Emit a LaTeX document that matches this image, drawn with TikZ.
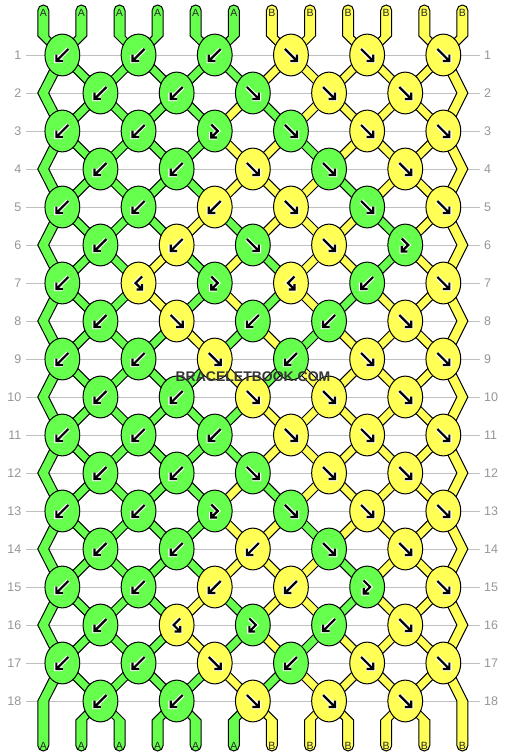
\documentclass[tikz,border=0pt]{standalone}
\usepackage{fontspec}
\setmainfont{Liberation Sans}
\definecolor{kg}{RGB}{102,255,77}
\definecolor{ky}{RGB}{255,255,85}
\definecolor{rowline}{RGB}{192,192,192}
\definecolor{numgray}{RGB}{150,150,150}
\definecolor{wmgray}{RGB}{55,55,55}
\definecolor{labdark}{RGB}{40,40,40}
\tikzset{
  seg/.style={draw=black, line width=1pt, line join=miter},
  knot/.style={draw=black, line width=1pt},
  gline/.style={draw=rowline, line width=1pt},
  rownum/.style={text=numgray, font=\fontsize{12.5}{14}\selectfont, inner sep=0pt},
  strlab/.style={text=labdark, font=\fontsize{10.5}{12}\selectfont, inner sep=0pt},
  wm/.style={font=\bfseries\fontsize{14}{16}\selectfont, inner sep=0pt},
  pics/arL/.style={code={
    \foreach \ww/\cc in {4.4/white,2.2/black}{
      \draw[line width=\ww pt, draw=\cc, line cap=butt, line join=miter]
        (6,-6) -- (-6,6) (-6,-0.5) -- (-6,6) -- (0.5,6);}}},
  pics/arR/.style={code={
    \foreach \ww/\cc in {4.4/white,2.2/black}{
      \draw[line width=\ww pt, draw=\cc, line cap=butt, line join=miter]
        (-6,-6) -- (6,6) (6,-0.5) -- (6,6) -- (-0.5,6);}}},
  pics/arF/.style={code={
    \foreach \ww/\cc in {4.4/white,2.2/black}{
      \draw[line width=\ww pt, draw=\cc, line cap=butt, line join=miter]
        (-3.5,-6.5) -- (3,0) -- (-3.5,6.5) (-3.5,1) -- (-3.5,6.5) -- (2,6.5);}}},
  pics/arB/.style={code={
    \foreach \ww/\cc in {4.4/white,2.2/black}{
      \draw[line width=\ww pt, draw=\cc, line cap=butt, line join=miter]
        (3.5,-6.5) -- (-3,0) -- (3.5,6.5) (3.5,1) -- (3.5,6.5) -- (-2,6.5);}}},
}
\begin{document}
\begin{tikzpicture}[x=1pt,y=-1pt]
\fill[white] (0,0) rectangle (506,756);
\useasboundingbox (0,0) rectangle (506,756);

% row lines and numbers
\foreach \rw in {1,...,18}{
  \pgfmathsetmacro\ly{55+38*(\rw-1)}
  \draw[gline] (26,\ly) -- (480,\ly);
  \node[rownum, anchor=east] (ln\rw) at (21.5,\ly) {\rw};
  \node[rownum, anchor=west] (rn\rw) at (484,\ly) {\rw};
}

% edge strings (position 1 green, position 12 yellow)
\filldraw[seg, fill=kg] (37.8,10.5) -- (37.8,36)
  \foreach \rr in {1,...,18}{ -- ({ifthenelse(mod(\rr,2)==1,62.35,43.3)-5.5},{55+38*(\rr-1)}) }
  -- (37.8,745.5) arc[start angle=180,end angle=0,radius=5.5]
  \foreach \rr in {18,...,1}{ -- ({ifthenelse(mod(\rr,2)==1,62.35,43.3)+5.5},{55+38*(\rr-1)}) }
  -- (48.8,36) -- (48.8,10.5) arc[start angle=0,end angle=-180,radius=5.5] -- cycle;
\filldraw[seg, fill=ky] (456.9,10.5) -- (456.9,36)
  \foreach \rr in {1,...,18}{ -- ({ifthenelse(mod(\rr,2)==1,443.35,462.4)-5.5},{55+38*(\rr-1)}) }
  -- (456.9,745.5) arc[start angle=180,end angle=0,radius=5.5]
  \foreach \rr in {18,...,1}{ -- ({ifthenelse(mod(\rr,2)==1,443.35,462.4)+5.5},{55+38*(\rr-1)}) }
  -- (467.9,36) -- (467.9,10.5) arc[start angle=0,end angle=-180,radius=5.5] -- cycle;

% inner string segments, coloured by state after each row
\foreach \rr/\st in {
 0/{g,g,g,g,g,g,y,y,y,y,y,y},
 1/{g,g,g,g,g,g,y,y,y,y,y,y},
 2/{g,g,g,g,g,y,g,y,y,y,y,y},
 3/{g,g,g,g,g,y,y,g,y,y,y,y},
 4/{g,g,g,g,g,y,y,y,g,y,y,y},
 5/{g,g,g,g,y,g,y,y,y,g,y,y},
 6/{g,g,g,y,g,y,g,y,y,g,y,y},
 7/{g,g,g,y,g,y,g,y,g,y,y,y},
 8/{g,g,g,g,y,g,y,g,y,y,y,y},
 9/{g,g,g,g,g,y,g,y,y,y,y,y},
 10/{g,g,g,g,g,g,y,y,y,y,y,y},
 11/{g,g,g,g,g,g,y,y,y,y,y,y},
 12/{g,g,g,g,g,y,g,y,y,y,y,y},
 13/{g,g,g,g,g,y,y,g,y,y,y,y},
 14/{g,g,g,g,g,y,y,y,g,y,y,y},
 15/{g,g,g,g,y,g,y,y,g,y,y,y},
 16/{g,g,g,g,y,g,y,g,y,y,y,y},
 17/{g,g,g,g,g,y,g,y,y,y,y,y},
 18/{g,g,g,g,g,g,y,y,y,y,y,y}}{
  \foreach \cl [count=\pp] in \st {
    \ifnum\pp>1 \ifnum\pp<12
      \pgfmathsetmacro\cx{43.3+38.1*(\pp-1)}
      \pgfmathsetmacro\xo{62.35+76.2*(ceil(\pp/2)-1)}
      \pgfmathsetmacro\xe{100.45+76.2*(floor(\pp/2)-1)}
      \pgfmathsetmacro\ya{55+38*(\rr-1)}
      \pgfmathsetmacro\yb{55+38*\rr}
      \ifnum\rr=0
        \filldraw[seg, fill=k\cl] (\cx-5.5,10.5) -- (\cx-5.5,36) -- (\xo-5.5,55) -- (\xo+5.5,55) -- (\cx+5.5,36) -- (\cx+5.5,10.5) arc[start angle=0,end angle=-180,radius=5.5] -- cycle;
      \else\ifnum\rr=18
        \filldraw[seg, fill=k\cl] (\xe-5.5,\ya) -- (\cx-5.5,720) -- (\cx-5.5,745.5) arc[start angle=180,end angle=0,radius=5.5] -- (\cx+5.5,720) -- (\xe+5.5,\ya) -- cycle;
      \else
        \ifodd\rr \let\xa\xo \let\xb\xe \else \let\xa\xe \let\xb\xo \fi
        \filldraw[seg, fill=k\cl] (\xa-6,\ya) -- (\xb-6,\yb) -- (\xb+6,\yb) -- (\xa+6,\ya) -- cycle;
      \fi\fi
    \fi\fi
  }
}

% string labels
\foreach \lb [count=\pp] in {A,A,A,A,A,A,B,B,B,B,B,B}{
  \pgfmathsetmacro\cx{43.3+38.1*(\pp-1)}
  \node[strlab] (top\pp) at (\cx,12.5) {\lb};
  \node[strlab] (bot\pp) at (\cx,745.5) {\lb};
}

% knots
\foreach \row/\lst in {
 1/{g/L,g/L,g/L,y/R,y/R,y/R},
 2/{g/L,g/L,g/R,y/R,y/R},
 3/{g/L,g/L,g/F,g/R,y/R,y/R},
 4/{g/L,g/L,y/R,g/R,y/R},
 5/{g/L,g/L,y/L,y/R,g/R,y/R},
 6/{g/L,y/L,g/R,y/R,g/F},
 7/{g/L,y/B,g/F,y/B,g/L,y/R},
 8/{g/L,y/R,g/L,g/L,y/R},
 9/{g/L,g/L,y/R,g/L,y/R,y/R},
 10/{g/L,g/L,y/R,y/R,y/R},
 11/{g/L,g/L,g/L,y/R,y/R,y/R},
 12/{g/L,g/L,g/R,y/R,y/R},
 13/{g/L,g/L,g/F,g/R,y/R,y/R},
 14/{g/L,g/L,y/L,g/R,y/R},
 15/{g/L,g/L,y/L,y/L,g/F,y/R},
 16/{g/L,y/B,g/F,g/L,y/R},
 17/{g/L,g/L,y/R,g/L,y/R,y/R},
 18/{g/L,g/L,y/R,y/R,y/R}}{
  \foreach \kc/\kt [count=\i] in \lst {
    \pgfmathsetmacro\kx{ifthenelse(mod(\row,2)==1,62.35,100.45)+76.2*(\i-1)}
    \pgfmathsetmacro\ky{55+38*(\row-1)}
    \filldraw[knot, fill=k\kc] (\kx,\ky) ellipse[x radius=17.4, y radius=20.9];
    \pic at (\kx,\ky) {ar\kt};
  }
}

% watermark
\node[wm, text=wmgray] (wm) at (253,377) {BRACELETBOOK.COM};
\end{tikzpicture}
\end{document}
